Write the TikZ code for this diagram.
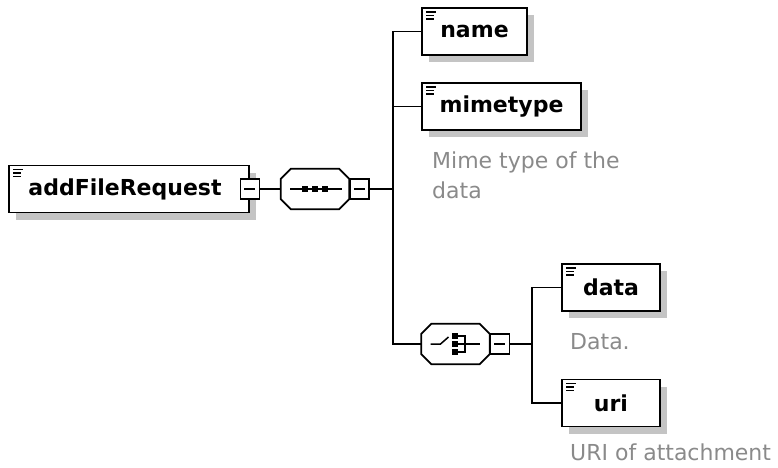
\documentclass[tikz,border=0pt]{standalone}
\usepackage{fontspec}
\setmainfont{DejaVu Sans}
\usepackage{tikz}
\usetikzlibrary{shadows, positioning}
\definecolor{shadowgray}{RGB}{196,196,196}
\definecolor{descgray}{RGB}{138,138,138}
\tikzstyle{element} = [rectangle, draw=black, line width=1.7pt, fill=white, minimum height=47pt, inner sep=0pt, font=\bfseries\fontsize{22}{26}\selectfont, general shadow={fill=shadowgray, shadow xshift=7pt, shadow yshift=-7pt}, path picture={\draw[line width=1.3pt] ([shift={(4pt,-4pt)}]path picture bounding box.north west) -- ++(10pt,0pt) ([shift={(4pt,-7.5pt)}]path picture bounding box.north west) -- ++(8pt,0pt) ([shift={(4pt,-11pt)}]path picture bounding box.north west) -- ++(8pt,0pt);}]
\tikzstyle{compositor} = [rectangle, minimum width=68pt, minimum height=40pt, inner sep=0pt]
\tikzstyle{toggle} = [rectangle, draw=black, line width=1.5pt, fill=white, minimum width=19pt, minimum height=20pt, inner sep=0pt, path picture={\draw[line width=1.5pt] ([xshift=4pt]path picture bounding box.west) -- ([xshift=-4pt]path picture bounding box.east);}]
\tikzstyle{desc} = [anchor=base west, inner sep=0pt, align=left, text=descgray, font=\fontsize{22}{30}\selectfont]
\tikzstyle{line} = [line width=1.7pt]
\tikzstyle{symbol} = [line width=1.5pt]

% octagon outline round a compositor node
\newcommand{\octagonpath}[1]{([xshift=10pt]#1.north west) -- ([xshift=-10pt]#1.north east) -- ([yshift=-10pt]#1.north east) -- ([yshift=10pt]#1.south east) -- ([xshift=-10pt]#1.south east) -- ([xshift=10pt]#1.south west) -- ([yshift=10pt]#1.south west) -- ([yshift=-10pt]#1.north west) -- cycle}
\newcommand{\octagonframe}[1]{%
    \fill [shadowgray, shift={(7pt,-7pt)}] \octagonpath{#1};
    \draw [line, fill=white] \octagonpath{#1};}

\begin{document}
\begin{tikzpicture}[x=1pt, y=-1pt]
        \useasboundingbox (0,0) rectangle (778,467);

        % Root element
        \node (root) [element, minimum width=240pt] at (129,189) {addFileRequest\hspace*{8pt}};
        \node (rootminus) [toggle] at (root.east) {};

        % Sequence
        \node (seq) [compositor] at (315,189) {};
        \octagonframe{seq}
        \node (seqminus) [toggle, right=0pt of seq] {};
        \coordinate (seqbus) at (393,189);

        % Children of the sequence
        \node (name) [element, minimum width=105pt] at (474.5,31.5) {name};
        \node (mimetype) [element, minimum width=159pt] at (501.5,106.5) {mimetype};
        \node (mimedesc) [desc] at (432,198) {Mime type of the\\data};

        % Choice
        \node (choice) [compositor] at (455.5,344) {};
        \octagonframe{choice}
        \node (choiceminus) [toggle, right=0pt of choice] {};
        \coordinate (choicebus) at (532,344);

        % Children of the choice
        \node (data) [element, minimum width=98pt] at (611,287.5) {data};
        \node (datadesc) [desc] at (570,349) {Data.};
        \node (uri) [element, minimum width=98pt] at (611,403) {uri};
        \node (uridesc) [desc] at (570,460) {URI of attachment};

        % Sequence symbol
        \draw [symbol] ([xshift=-25pt]seq.center) -- ([xshift=27pt]seq.center);
        \foreach \dx in {-10,0,10}
            \fill ([xshift=\dx pt]seq.center) +(-3pt,-3pt) rectangle +(3pt,3pt);

        % Choice symbol
        \draw [symbol] ([xshift=-25pt]choice.center) -- ([xshift=-15pt]choice.center) -- ([shift={(-7pt,7pt)}]choice.center);
        \foreach \dy in {-8,0,8}
            \fill ([shift={(-0.5pt,\dy pt)}]choice.center) +(-3pt,-3pt) rectangle +(3pt,3pt);
        \draw [symbol] ([shift={(2pt,8pt)}]choice.center) -| ([shift={(9.5pt,-8pt)}]choice.center) -- ([shift={(2pt,-8pt)}]choice.center);
        \draw [symbol] ([xshift=2pt]choice.center) -- ([xshift=24pt]choice.center);

        % Connectors
        \draw [line] (rootminus.east) -- (seq.west);
        \draw [line] (seqminus.east) -- (seqbus);
        \draw [line] (name.west) -- (name.west -| seqbus) -- (choice.west -| seqbus) -- (choice.west);
        \draw [line] (mimetype.west) -- (mimetype.west -| seqbus);
        \draw [line] (choiceminus.east) -- (choicebus);
        \draw [line] (data.west) -- (data.west -| choicebus) -- (uri.west -| choicebus) -- (uri.west);
\end{tikzpicture}
\end{document}
